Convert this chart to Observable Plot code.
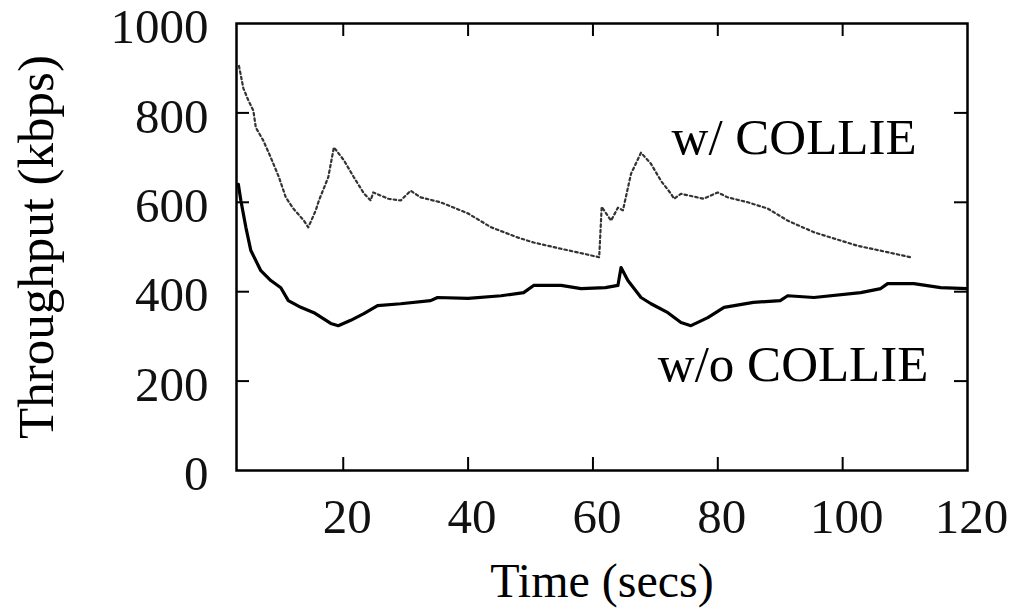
<!DOCTYPE html>
<html>
<head>
<meta charset="utf-8">
<script src="https://cdn.jsdelivr.net/npm/d3@7"></script>
<script src="https://cdn.jsdelivr.net/npm/@observablehq/plot@0.6"></script>
<style>
  html, body { margin: 0; padding: 0; background: #fff; font-family: "Liberation Serif", "Times New Roman", "DejaVu Serif", serif; }
  #chart svg { display: block; }
  #chart svg, #chart svg text { font-family: "Liberation Serif", "Times New Roman", "DejaVu Serif", serif !important; }
</style>
</head>
<body>
<div id="chart"></div>
<script>
// --- data ---
const withTime = [3.3, 4.0, 4.8, 5.6, 6.0, 7.2, 8.4, 9.7, 10.8, 12.0, 13.7, 14.4, 15.6, 16.1, 17.6, 18.5, 20.1, 21.7, 23.3, 24.4, 24.8, 27.2, 29.2, 30.8, 32.4, 35.6, 40.0, 43.7, 48.0, 50.5, 54.9, 58.5, 61.0, 61.4, 62.9, 64.0, 64.8, 66.1, 67.7, 69.3, 70.9, 72.5, 73.0, 74.1, 77.7, 80.0, 81.6, 84.8, 88.0, 91.2, 95.4, 98.6, 102.3, 106.0, 110.9];
const withThr  = [905, 855, 828, 805, 767, 738, 700, 656, 611, 586, 559, 544, 582, 604, 656, 723, 694, 656, 620, 604, 622, 608, 604, 626, 611, 600, 575, 544, 521, 510, 496, 485, 477, 590, 559, 588, 582, 664, 711, 686, 648, 619, 608, 619, 608, 622, 611, 600, 586, 559, 533, 519, 503, 492, 477];

const withoutTime = [3.2, 3.6, 4.4, 5.2, 6.8, 8.4, 10.0, 11.2, 13.2, 15.3, 18.0, 19.2, 21.2, 23.3, 25.5, 29.2, 34.0, 35.1, 40.0, 45.3, 48.9, 50.5, 54.9, 58.1, 62.0, 64.0, 64.5, 65.6, 67.7, 69.3, 72.0, 74.1, 75.7, 78.4, 81.0, 85.7, 90.0, 91.2, 95.4, 102.9, 106.1, 107.2, 111.4, 115.7, 120.0];
const withoutThr  = [640, 604, 544, 492, 447, 425, 409, 380, 365, 353, 329, 324, 336, 351, 369, 373, 380, 387, 385, 391, 398, 414, 414, 407, 409, 414, 454, 425, 387, 373, 353, 331, 324, 342, 365, 376, 380, 391, 387, 398, 407, 418, 418, 409, 407];

const seriesLabels = ["w/ COLLIE", "w/o COLLIE"];
const labelTime = [72.6, 70.4];
const labelThr  = [709, 201];

const xTicks = [20, 40, 60, 80, 100, 120];
const yTicks = [0, 200, 400, 600, 800, 1000];
const xDomain = [2.9, 120];
const yDomain = [0, 1000];
const xTitle = "Time (secs)";
const yTitle = "Throughput (kbps)";

// --- build tables ---
const withData = withTime.map((t, i) => ({t, v: withThr[i]}));
const withoutData = withoutTime.map((t, i) => ({t, v: withoutThr[i]}));
const labelData = seriesLabels.map((s, i) => ({s, t: labelTime[i], v: labelThr[i]}));

const W = 1017, H = 609;
const mL = 236, mR = 50, mT = 23, mB = 139;
const frameW = W - mL - mR, frameH = H - mT - mB;
const tick = 13;
const font = "Liberation Serif, Times New Roman, DejaVu Serif, serif";

const chart = Plot.plot({
  width: W,
  height: H,
  marginLeft: mL,
  marginRight: mR,
  marginTop: mT,
  marginBottom: mB,
  style: {fontFamily: font, background: "#fff", color: "#000"},
  x: {domain: xDomain},
  y: {domain: yDomain},
  marks: [
    Plot.axisX(xTicks, {tickSize: 0, tickPadding: 28, fontSize: 49, dx: 4, label: null, fill: "#111", tickFormat: d => String(d)}),
    Plot.axisY(yTicks, {tickSize: 0, tickPadding: 28, fontSize: 49, dy: 4, label: null, fill: "#111", tickFormat: d => String(d)}),
    // inward ticks on all four sides
    Plot.tickX(xTicks.filter(d => d < 120), {x: d => d, insetTop: frameH - tick, stroke: "#000", strokeWidth: 2}),
    Plot.tickX(xTicks.filter(d => d < 120), {x: d => d, insetBottom: frameH - tick, stroke: "#000", strokeWidth: 2}),
    Plot.tickY(yTicks.filter(d => d > 0 && d < 1000), {y: d => d, insetRight: frameW - tick, stroke: "#000", strokeWidth: 2}),
    Plot.tickY(yTicks.filter(d => d > 0 && d < 1000), {y: d => d, insetLeft: frameW - tick, stroke: "#000", strokeWidth: 2}),
    Plot.line(withData, {x: "t", y: "v", stroke: "#333", strokeWidth: 2.2, strokeDasharray: "2.5,3", clip: true}),
    Plot.line(withoutData, {x: "t", y: "v", stroke: "#000", strokeWidth: 3.2, clip: true}),
    Plot.text(labelData, {x: "t", y: "v", text: "s", textAnchor: "start", lineAnchor: "bottom", fontSize: 51, fill: "#000"}),
    Plot.text([xTitle], {frameAnchor: "bottom", text: d => d, textAnchor: "middle", lineAnchor: "bottom", dy: 126, fontSize: 48, fill: "#000"}),
    Plot.text([yTitle], {frameAnchor: "left", text: d => d, rotate: -90, textAnchor: "middle", lineAnchor: "bottom", dx: -184, fontSize: 51, fill: "#000"}),
    Plot.frame({stroke: "#000", strokeWidth: 2.5})
  ]
});
document.getElementById("chart").appendChild(chart);
</script>
</body>
</html>
